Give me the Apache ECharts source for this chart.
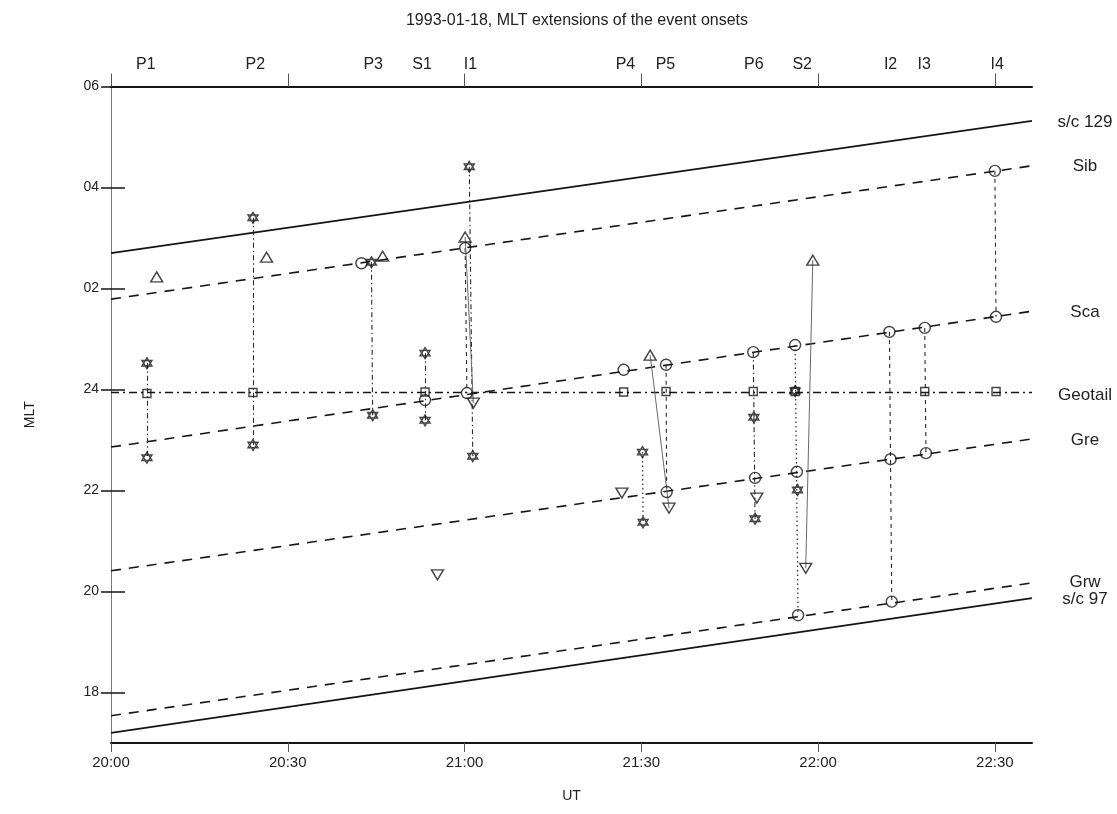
<!DOCTYPE html>
<html><head><meta charset="utf-8">
<script src="https://cdn.jsdelivr.net/npm/echarts@6/dist/echarts.min.js"></script>
<style>html,body{margin:0;padding:0;background:#fff}#c{width:1117px;height:814px}</style>
</head><body><div id="c"></div>
<script>
// ---- data (time in minutes after 20:00 UT, MLT in hours; 24+ means next day) ----
const xMax = 156.3;
const xTickValues = [0, 30, 60, 90, 120, 150];
const yTickValues = [18, 20, 22, 24, 26, 28, 30];
const yTickLabels = ['18', '20', '22', '24', '02', '04', '06'];
const rightTickValues = [18, 20, 22, 24, 26, 28];

const eventNames = ['P1', 'P2', 'P3', 'S1', 'I1', 'P4', 'P5', 'P6', 'S2', 'I2', 'I3', 'I4'];
const eventTimes = [5.9, 24.5, 44.5, 52.8, 61.0, 87.3, 94.1, 109.1, 117.3, 132.3, 138.0, 150.4];

const stationNames = ['s/c 129', 'Sib', 'Sca', 'Geotail', 'Gre', 'Grw', 's/c 97'];
const stationStart = [26.70, 25.79, 22.86, 23.94, 20.41, 17.54, 17.20];
const stationEnd   = [29.32, 28.43, 25.55, 23.94, 23.02, 20.17, 19.87];

const stars = [[6.1,24.52],[6.1,22.65],[24.1,27.40],[24.1,22.90],[44.2,26.52],[44.4,23.49],
  [53.3,24.72],[53.3,23.39],[60.8,28.41],[61.4,22.68],[90.2,22.76],[90.3,21.37],
  [109.1,23.45],[109.3,21.44],[116.1,23.97],[116.5,22.01]];
const squares = [[6.1,23.92],[24.1,23.94],[53.3,23.95],[87.0,23.95],[94.2,23.96],[109.0,23.96],
  [116.1,23.96],[138.1,23.96],[150.2,23.96]];
const circles = [[42.5,26.50],[53.3,23.79],[60.1,26.80],[60.4,23.93],[87.0,24.39],[94.2,24.49],
  [94.3,21.97],[109.0,24.74],[109.3,22.25],[116.1,24.88],[116.4,22.37],[116.6,19.53],
  [132.1,25.14],[132.3,22.62],[132.5,19.80],[138.1,25.22],[138.3,22.74],[150.0,28.33],[150.2,25.44]];
const trianglesUp = [[7.75,26.23],[26.4,26.62],[46.1,26.64],[60.1,27.02],[91.5,24.68],[119.1,26.56]];
const trianglesDown = [[55.4,20.33],[61.5,23.73],[86.7,21.95],[94.7,21.65],[109.6,21.85],[117.9,20.46]];

const dashDotLinks = [[6.1,24.52,6.1,22.65],[24.1,27.40,24.1,22.90],[44.2,26.52,44.4,23.49],
  [53.3,24.72,53.3,23.39],[109.0,24.74,109.3,21.44],[60.8,28.41,61.4,22.68]];
const dottedLinks = [[90.2,22.76,90.3,21.37],[116.1,24.88,116.6,19.53]];
const dashedLinks = [[94.2,24.49,94.3,21.97],[132.1,25.14,132.5,19.80],[138.1,25.22,138.3,22.74],
  [150.0,28.33,150.2,25.44],[60.1,26.80,60.4,23.93]];
const solidLinks = [[60.1,27.02,61.5,23.73],[91.5,24.68,94.7,21.65],[119.1,26.56,117.9,20.46]];

// ---- styles ----
const FONT = '"Liberation Sans", Arial, Helvetica, sans-serif';
const INK = '#151515';
const TXT = '#222';
const stationStyles = [
  {type: 'solid', width: 1.8},
  {type: [10, 8], width: 1.6},
  {type: [10, 8], width: 1.6},
  {type: [8, 4, 2, 4], width: 1.5},
  {type: [10, 8], width: 1.6},
  {type: [10, 8], width: 1.6},
  {type: 'solid', width: 1.8}
];

function fmtTime(v) {
  const h = 20 + Math.floor(v / 60), m = Math.round(v % 60);
  return h + ':' + (m < 10 ? '0' : '') + m;
}
function linkSeries(list, type, color, width) {
  return {
    type: 'lines', coordinateSystem: 'cartesian2d', silent: true, z: 3,
    lineStyle: {color: color, width: width, type: type, opacity: 1},
    data: list.map(l => ({coords: [[l[0], l[1]], [l[2], l[3]]]}))
  };
}
function scatterSeries(data, symbol, size, rotate) {
  return {
    type: 'scatter', data: data, symbol: symbol, symbolSize: size, symbolRotate: rotate || 0,
    z: 5, silent: true,
    itemStyle: {color: 'rgba(255,255,255,0)', borderColor: INK, borderWidth: 1.4}
  };
}
const starPath = 'path://M0,-10L8.66,5L-8.66,5Z M0,10L8.66,-5L-8.66,-5Z';

const chart = echarts.init(document.getElementById('c'), null, {renderer: 'canvas'});
const series = [];
stationNames.forEach((n, i) => {
  series.push({
    type: 'line', name: n, showSymbol: false, silent: true, z: 2,
    data: [[0, stationStart[i]], [xMax, stationEnd[i]]],
    lineStyle: Object.assign({color: INK}, stationStyles[i])
  });
});
series.push(linkSeries(dashDotLinks, [5, 3, 1.5, 3], '#2a2a2a', 1.1));
series.push(linkSeries(dottedLinks, [1.5, 3], '#2a2a2a', 1.2));
series.push(linkSeries(dashedLinks, [4, 4], '#2a2a2a', 1.1));
series.push(linkSeries(solidLinks, 'solid', '#6a6a6a', 1));
series.push(scatterSeries(stars, starPath, [10, 11]));
series.push(scatterSeries(squares, 'rect', [8, 8]));
series.push(scatterSeries(circles, 'circle', 11));
series.push(scatterSeries(trianglesUp, 'triangle', [12, 10]));
series.push(scatterSeries(trianglesDown, 'triangle', [12, 10], 180));

chart.setOption({
  animation: false,
  backgroundColor: '#fff',
  textStyle: {fontFamily: FONT},
  title: {
    text: '1993-01-18, MLT extensions of the event onsets',
    left: 572, top: 8, textAlign: 'center',
    textStyle: {fontSize: 16, fontWeight: 'normal', color: TXT, fontFamily: FONT}
  },
  grid: {left: 111, right: 85, top: 86.5, bottom: 71, containLabel: false, outerBoundsMode: 'none'},
  xAxis: [{
    type: 'value', position: 'bottom', min: 0, max: xMax,
    axisLine: {show: true, lineStyle: {color: INK, width: 2}},
    axisTick: {show: true, inside: false, length: 9, customValues: xTickValues, lineStyle: {color: '#555', width: 1}},
    axisLabel: {show: true, customValues: xTickValues, formatter: v => fmtTime(v), margin: 12,
      fontSize: 15, color: TXT, fontFamily: FONT, hideOverlap: false},
    splitLine: {show: false},
    name: 'UT', nameLocation: 'middle', nameGap: 46,
    nameTextStyle: {fontSize: 14, color: TXT, fontFamily: FONT}
  }, {
    type: 'value', position: 'top', min: 0, max: xMax,
    axisLine: {show: true, lineStyle: {color: INK, width: 2}},
    axisTick: {show: true, inside: false, length: 13, customValues: xTickValues, lineStyle: {color: '#555', width: 1}},
    axisLabel: {show: true, customValues: eventTimes, margin: 14, hideOverlap: false,
      formatter: v => { const i = eventTimes.findIndex(t => Math.abs(t - v) < 1e-6); return i >= 0 ? eventNames[i] : ''; },
      fontSize: 16, color: TXT, fontFamily: FONT},
    splitLine: {show: false}
  }],
  yAxis: [{
    type: 'value', position: 'left', min: 17, max: 30,
    axisLine: {show: true, lineStyle: {color: '#777', width: 1}},
    axisTick: {show: true, inside: false, length: 10, customValues: yTickValues, lineStyle: {color: INK, width: 1.5}},
    axisLabel: {show: true, customValues: yTickValues, margin: 12, hideOverlap: false,
      formatter: v => { const i = yTickValues.indexOf(Math.round(v)); return i >= 0 ? yTickLabels[i] : ''; },
      fontSize: 14, color: TXT, fontFamily: FONT},
    splitLine: {show: false},
    name: 'MLT', nameLocation: 'middle', nameGap: 74, nameRotate: 90,
    nameTextStyle: {fontSize: 14, color: TXT, fontFamily: FONT}
  }, {
    type: 'value', position: 'right', min: 17, max: 30,
    axisLine: {show: true, lineStyle: {color: '#777', width: 1}},
    axisTick: {show: true, inside: false, length: 14, customValues: rightTickValues, lineStyle: {color: INK, width: 1.5}},
    axisLabel: {show: false},
    splitLine: {show: false}
  }],
  series: series
});

// station names at the right, centred on each line's end value
const xEndPx = chart.convertToPixel({xAxisIndex: 0}, xMax);
chart.setOption({
  graphic: stationNames.map((n, i) => ({
    type: 'text', silent: true,
    x: xEndPx + 53,
    y: chart.convertToPixel({yAxisIndex: 0}, stationEnd[i]) + (n === 'Geotail' ? 3 : (n === 'Grw' ? -1 : 1)),
    style: {text: n, fill: TXT, font: '17px ' + FONT, align: 'center', verticalAlign: 'middle'}
  }))
});
</script></body></html>
